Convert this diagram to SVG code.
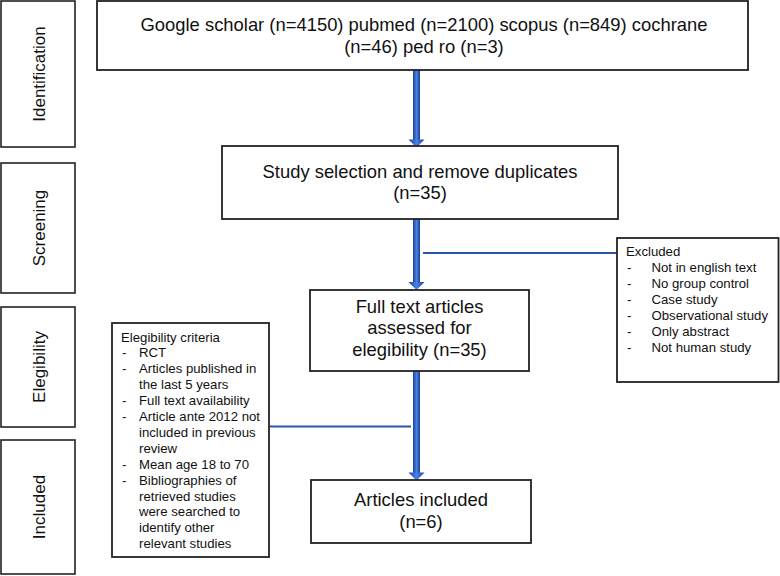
<svg xmlns="http://www.w3.org/2000/svg" width="780" height="576" viewBox="0 0 780 576">
<defs>
<linearGradient id="shaft" x1="0" y1="0" x2="1" y2="0">
<stop offset="0" stop-color="#1a3f9c"/>
<stop offset="0.5" stop-color="#4a80e2"/>
<stop offset="1" stop-color="#1a3f9c"/>
</linearGradient>
<style>
.box{fill:#fff;stroke:#222;stroke-width:1.8}
.stage{fill:#fff;stroke:#222;stroke-width:1.6}
.t{font-family:"Liberation Sans",Arial,sans-serif;fill:#111}
.main{font-size:18.4px;text-anchor:middle}
.stg{font-size:17px;text-anchor:middle}
.small{font-size:13.2px}
.link{stroke:#2a55a8;stroke-width:2.2;fill:none}
.arr{fill:url(#shaft)}
</style>
</defs>
<rect width="780" height="576" fill="#fff"/>

<g id="stage-identification">
<rect class="stage" x="1" y="1" width="74" height="146"/>
<text class="t stg" transform="translate(44.5,74) rotate(-90)">Identification</text>
</g>
<g id="stage-screening">
<rect class="stage" x="1" y="163" width="74" height="130"/>
<text class="t stg" transform="translate(44.5,228) rotate(-90)">Screening</text>
</g>
<g id="stage-eligibility">
<rect class="stage" x="1" y="307" width="74" height="120"/>
<text class="t stg" transform="translate(44.5,367) rotate(-90)">Elegibility</text>
</g>
<g id="stage-included">
<rect class="stage" x="1" y="440" width="74" height="134"/>
<text class="t stg" transform="translate(44.5,507) rotate(-90)">Included</text>
</g>

<g id="connectors">
<rect class="arr" x="413" y="70" width="7" height="70"/>
<polygon class="arr" points="408.5,139.5 424.5,139.5 416.5,147.5"/>
<rect class="arr" x="413" y="219" width="7" height="63"/>
<polygon class="arr" points="408.5,282 424.5,282 416.5,290"/>
<rect class="arr" x="413" y="371" width="7" height="102"/>
<polygon class="arr" points="408.5,472.5 424.5,472.5 416.5,480.5"/>
<line class="link" x1="423" y1="253" x2="617" y2="253"/>
<line class="link" x1="270" y1="426.5" x2="411" y2="426.5"/>
</g>

<g id="node-identification">
<rect class="box" x="97" y="1" width="651" height="69"/>
<text class="t main" x="424" y="31">Google scholar (n=4150) pubmed (n=2100) scopus (n=849) cochrane</text>
<text class="t main" x="424" y="53">(n=46) ped ro (n=3)</text>
</g>

<g id="node-screening">
<rect class="box" x="222" y="146" width="396" height="73"/>
<text class="t main" x="420" y="177.5">Study selection and remove duplicates</text>
<text class="t main" x="420" y="199">(n=35)</text>
</g>

<g id="node-fulltext">
<rect class="box" x="310" y="290" width="219" height="81"/>
<text class="t main" x="419.5" y="313">Full text articles</text>
<text class="t main" x="419.5" y="334">assessed for</text>
<text class="t main" x="419.5" y="355.5">elegibility (n=35)</text>
</g>

<g id="node-included">
<rect class="box" x="311" y="480" width="220" height="63"/>
<text class="t main" x="421" y="505.5">Articles included</text>
<text class="t main" x="421" y="527.5">(n=6)</text>
</g>

<g id="node-excluded">
<rect class="box" x="617" y="238" width="161.5" height="144"/>
<text class="t small" x="626" y="255.5">Excluded</text>
<g class="t small">
<text x="627" y="271.5">-</text><text x="651.5" y="271.5">Not in english text</text>
<text x="627" y="287.5">-</text><text x="651.5" y="287.5">No group control</text>
<text x="627" y="303.5">-</text><text x="651.5" y="303.5">Case study</text>
<text x="627" y="319.5">-</text><text x="651.5" y="319.5">Observational study</text>
<text x="627" y="335.5">-</text><text x="651.5" y="335.5">Only abstract</text>
<text x="627" y="351.5">-</text><text x="651.5" y="351.5">Not human study</text>
</g>
</g>

<g id="node-criteria">
<rect class="box" x="112" y="323" width="157" height="234"/>
<g class="t small">
<text x="121" y="341.5">Elegibility criteria</text>
<text x="122" y="357.4">-</text><text x="139" y="357.4">RCT</text>
<text x="122" y="373.3">-</text><text x="139" y="373.3">Articles published in</text>
<text x="139" y="389.2">the last 5 years</text>
<text x="122" y="405.1">-</text><text x="139" y="405.1">Full text availability</text>
<text x="122" y="421">-</text><text x="139" y="421">Article ante 2012 not</text>
<text x="139" y="436.9">included in previous</text>
<text x="139" y="452.8">review</text>
<text x="122" y="468.7">-</text><text x="139" y="468.7">Mean age 18 to 70</text>
<text x="122" y="484.6">-</text><text x="139" y="484.6">Bibliographies of</text>
<text x="139" y="500.5">retrieved studies</text>
<text x="139" y="516.4">were searched to</text>
<text x="139" y="532.3">identify other</text>
<text x="139" y="548.2">relevant studies</text>
</g>
</g>
</svg>
